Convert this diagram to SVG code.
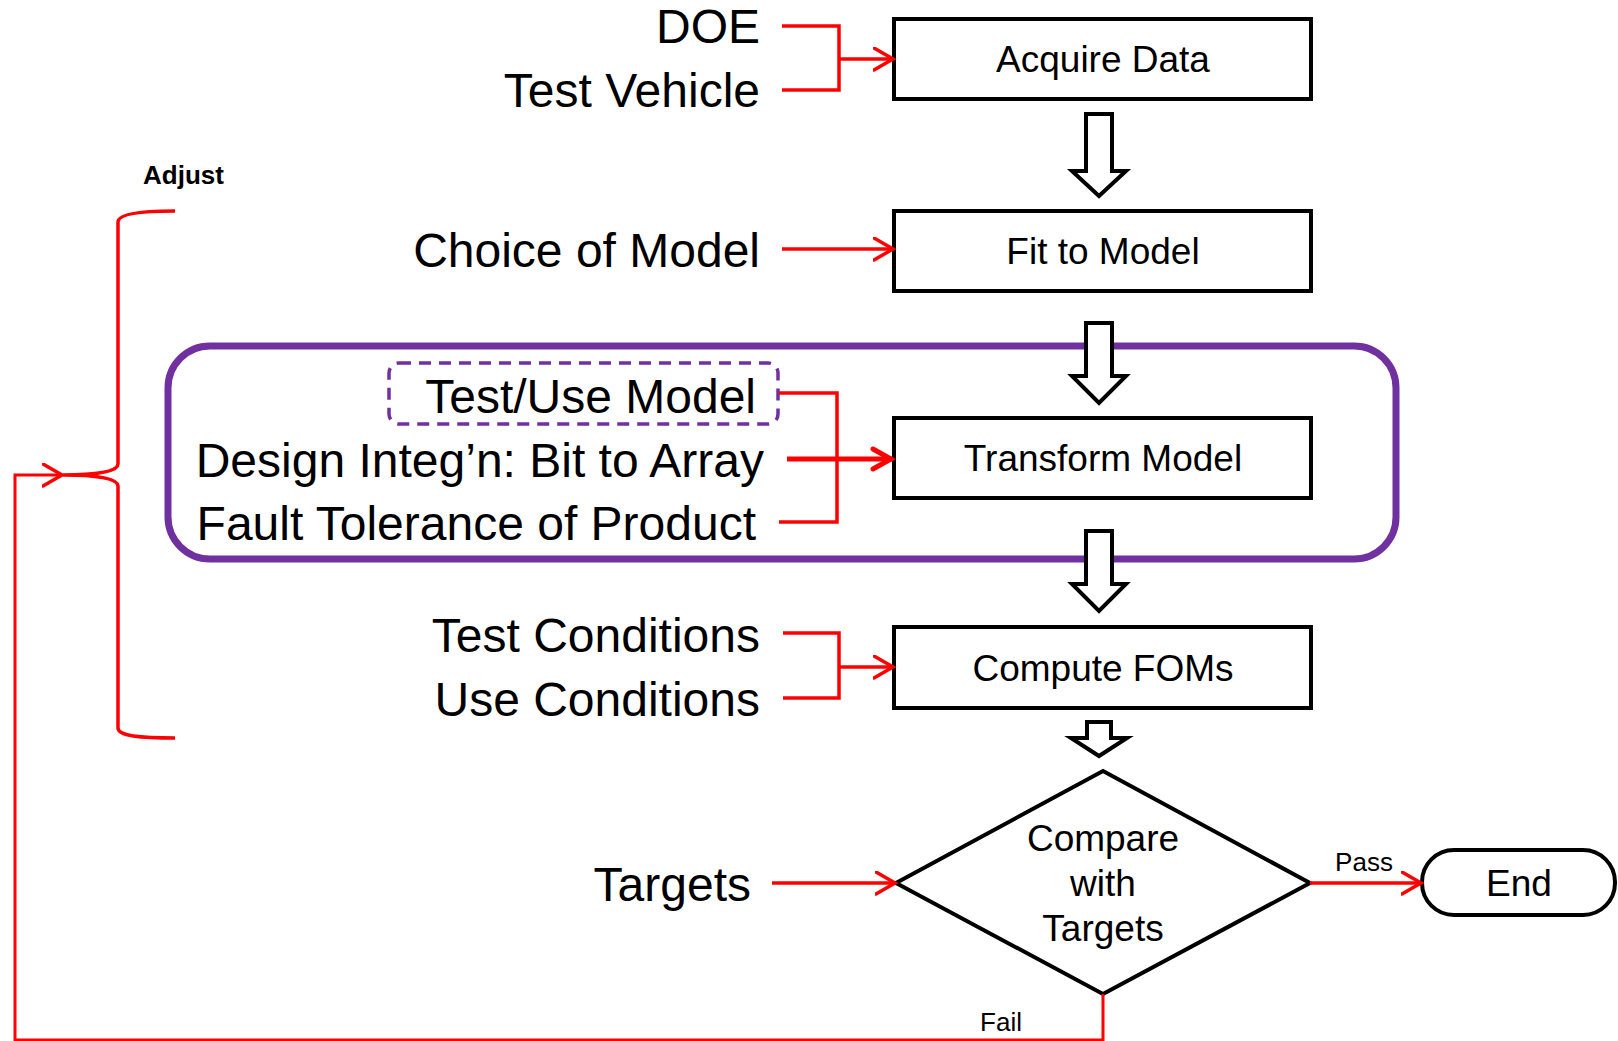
<svg xmlns="http://www.w3.org/2000/svg" width="1618" height="1041" viewBox="0 0 1618 1041">
<style>
.box{fill:#fff;stroke:#000;stroke-width:4}
.hol{fill:#fff;stroke:#000;stroke-width:4;stroke-linejoin:miter}
.red{fill:none;stroke:#ff0000;stroke-width:3.5}
.lbl{font-family:"Liberation Sans",Arial,sans-serif;font-size:48px;fill:#000;text-anchor:end}
.bt{font-family:"Liberation Sans",Arial,sans-serif;font-size:37px;fill:#000;text-anchor:middle}
.sm{font-family:"Liberation Sans",Arial,sans-serif;font-size:26px;fill:#000;text-anchor:middle}
</style>
<defs>
<marker id="ah" markerWidth="24" markerHeight="26" refX="20" refY="12" orient="auto" markerUnits="userSpaceOnUse">
<path d="M1,1 L20,12 L1,23" fill="none" stroke="#ff0000" stroke-width="3.5" stroke-linecap="round"/>
</marker>
<marker id="ahb" markerWidth="26" markerHeight="28" refX="22" refY="13" orient="auto" markerUnits="userSpaceOnUse">
<path d="M3,3 L21,13 L3,23" fill="none" stroke="#ff0000" stroke-width="5" stroke-linecap="round"/>
</marker>
</defs>

<g id="purple-group">
<rect x="168" y="346" width="1228" height="213" rx="42" fill="none" stroke="#7030a0" stroke-width="7"/>
<rect x="389" y="363" width="389" height="61" rx="10" fill="none" stroke="#7030a0" stroke-width="3.5" stroke-dasharray="12,8"/>
</g>

<g id="labels">
<text class="lbl" x="760" y="43">DOE</text>
<text class="lbl" x="760" y="107">Test Vehicle</text>
<text class="lbl" x="760" y="267">Choice of Model</text>
<text class="lbl" x="756" y="413">Test/Use Model</text>
<text class="lbl" x="764" y="477">Design Integ’n: Bit to Array</text>
<text class="lbl" x="756" y="540">Fault Tolerance of Product</text>
<text class="lbl" x="760" y="652">Test Conditions</text>
<text class="lbl" x="760" y="716">Use Conditions</text>
<text class="lbl" x="751" y="901">Targets</text>
<text x="143" y="184" font-family="Liberation Sans, Arial, sans-serif" font-size="26" font-weight="bold">Adjust</text>
</g>

<g id="acquire">
<rect class="box" x="894" y="19" width="417" height="80"/>
<text class="bt" x="1103" y="72">Acquire Data</text>
</g>
<g id="fit">
<rect class="box" x="894" y="211" width="417" height="80"/>
<text class="bt" x="1103" y="264">Fit to Model</text>
</g>
<g id="transform">
<rect class="box" x="894" y="418" width="417" height="80"/>
<text class="bt" x="1103" y="471">Transform Model</text>
</g>
<g id="compute">
<rect class="box" x="894" y="627" width="417" height="81"/>
<text class="bt" x="1103" y="681">Compute FOMs</text>
</g>
<g id="compare">
<polygon points="1103,771 1310,883 1103,994 896,883" fill="#fff" stroke="#000" stroke-width="4"/>
<text class="bt" x="1103" y="851">Compare</text>
<text class="bt" x="1103" y="896">with</text>
<text class="bt" x="1103" y="941">Targets</text>
</g>
<g id="end">
<rect x="1422" y="850" width="193" height="65" rx="32" fill="#fff" stroke="#000" stroke-width="4"/>
<text class="bt" x="1519" y="896">End</text>
</g>

<g id="connectors">
<path class="hol" d="M1086,114 L1112,114 L1112,171 L1126,171 L1099,196 L1072,171 L1086,171 Z"/>
<path class="hol" d="M1086,323 L1112,323 L1112,376 L1126,376 L1099,403 L1072,376 L1086,376 Z"/>
<path class="hol" d="M1086,531 L1112,531 L1112,584 L1126,584 L1099,611 L1072,584 L1086,584 Z"/>
<path class="hol" d="M1087,722 L1111,722 L1111,738 L1127,738 L1099,756 L1071,738 L1087,738 Z"/>
<path class="red" d="M782,26 L839,26 L839,90 L782,90"/>
<line class="red" x1="839" y1="59" x2="893" y2="59" marker-end="url(#ah)"/>
<line class="red" x1="782" y1="249" x2="893" y2="249" marker-end="url(#ah)"/>
<path class="red" d="M779,393 L837,393 L837,522 L779,522"/>
<line x1="787" y1="459" x2="892" y2="459" stroke="#ff0000" stroke-width="5" marker-end="url(#ahb)"/>
<path class="red" d="M783,633 L839,633 L839,698 L783,698"/>
<line class="red" x1="839" y1="667" x2="893" y2="667" marker-end="url(#ah)"/>
<line class="red" x1="772" y1="883" x2="895" y2="883" marker-end="url(#ah)"/>
<line class="red" x1="1310" y1="883" x2="1421" y2="883" marker-end="url(#ah)"/>
<text class="sm" x="1364" y="871">Pass</text>
<path d="M1103,994 L1103,1040 L15,1040 L15,475 L62,475" fill="none" stroke="#ff0000" stroke-width="3" marker-end="url(#ah)"/>
<text class="sm" x="1001" y="1031">Fail</text>
<path class="red" d="M175,211 C140,211 118,214 118,222 L118,464 C118,472 95,475 63,475 C95,475 118,478 118,486 L118,728 C118,736 140,738 175,738"/>
</g>
</svg>
